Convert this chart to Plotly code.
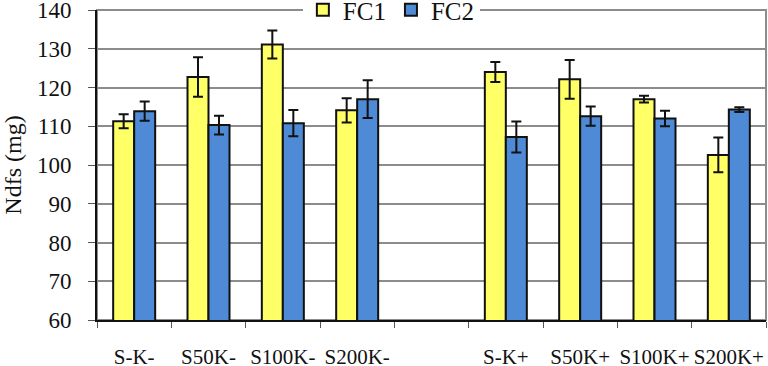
import plotly.graph_objects as go

categories = ["S-K-", "S50K-", "S100K-", "S200K-", " ", "S-K+", "S50K+", "S100K+", "S200K+"]
fc1_values = [111.3, 122.7, 131.1, 114.1, None, 124.0, 122.1, 117.0, 102.6]
fc1_errors = [1.8, 5.1, 3.6, 3.1, None, 2.6, 5.0, 0.9, 4.5]
fc2_values = [113.9, 110.3, 110.8, 117.0, None, 107.2, 112.6, 112.0, 114.3]
fc2_errors = [2.5, 2.4, 3.4, 4.9, None, 4.0, 2.5, 2.0, 0.6]
y_ticks = [60, 70, 80, 90, 100, 110, 120, 130, 140]

FONT = "Liberation Serif"

fig = go.Figure()
fig.add_trace(go.Bar(
    name="FC1", x=categories, y=fc1_values,
    marker=dict(color="#FFFF66", line=dict(color="#111111", width=2)),
    error_y=dict(type="data", array=fc1_errors, visible=True,
                 color="#111111", thickness=2, width=5),
))
fig.add_trace(go.Bar(
    name="FC2", x=categories, y=fc2_values,
    marker=dict(color="#4F8AD6", line=dict(color="#111111", width=2)),
    error_y=dict(type="data", array=fc2_errors, visible=True,
                 color="#111111", thickness=2, width=5),
))

fig.add_shape(type="rect", xref="paper", yref="paper", x0=0, x1=1, y0=0, y1=1,
              line=dict(color="#8c8c8c", width=2), layer="below")

fig.update_layout(
    width=768, height=366,
    margin=dict(l=97, r=2, t=10, b=46, autoexpand=False),
    paper_bgcolor="white", plot_bgcolor="white",
    barmode="group", bargap=0.435, bargroupgap=0,
    font=dict(family=FONT, color="#111111"),
    showlegend=True,
    legend=dict(orientation="h", x=0.44, xanchor="center", y=1.0, yanchor="middle",
                bgcolor="white", font=dict(size=25, family=FONT),
                itemwidth=30, traceorder="normal"),
)
fig.update_xaxes(
    type="category", categoryorder="array", categoryarray=categories,
    showline=True, linecolor="#111111", linewidth=2,
    ticks="outside", tickson="boundaries", ticklen=6, tickcolor="#555555",
    showgrid=False, tickfont=dict(size=21, family=FONT),
    tickangle=0, automargin=False, ticklabeloverflow="allow",
    ticklabelstandoff=17,
)
fig.update_yaxes(
    range=[60, 140], tickvals=y_ticks,
    showline=True, linecolor="#111111", linewidth=2,
    ticks="outside", ticklen=7, tickcolor="#555555",
    showgrid=True, gridcolor="#8c8c8c", gridwidth=1.5,
    tickfont=dict(size=23, family=FONT), ticklabelstandoff=12,
    automargin=False, ticklabeloverflow="allow",
    title=dict(text="Ndfs (mg)", font=dict(size=24, family=FONT), standoff=14),
    zeroline=False,
)

fig.write_html("out.html", config={"displayModeBar": False},
               post_script="document.body.style.margin='0px';document.body.style.overflow='hidden';")
